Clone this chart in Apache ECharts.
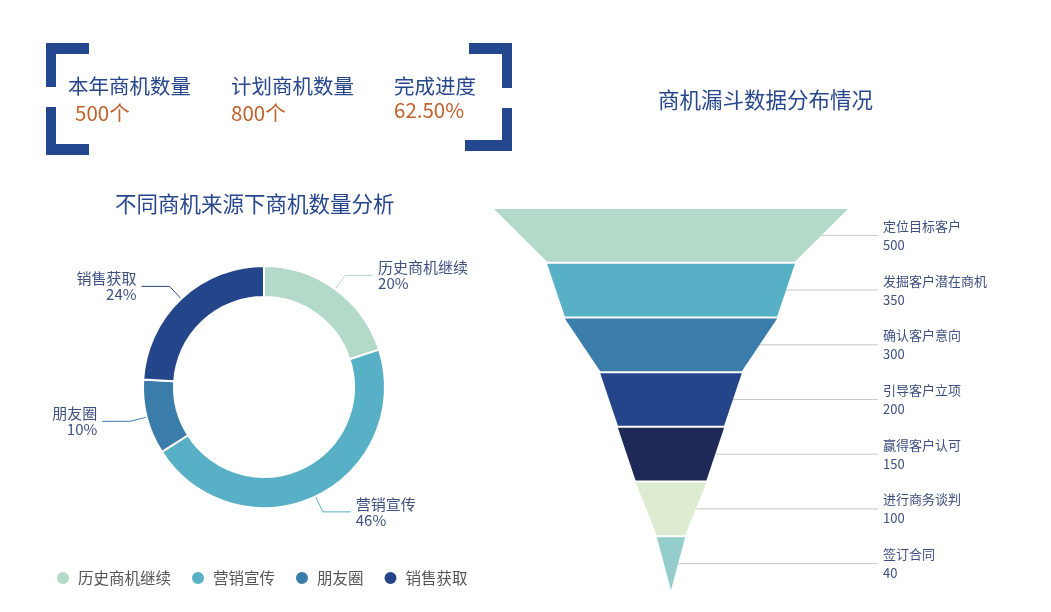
<!DOCTYPE html>
<html>
<head>
<meta charset="utf-8">
<script src="https://cdn.jsdelivr.net/npm/echarts@6/dist/echarts.min.js"></script>
<style>
html,body{margin:0;padding:0;background:#fff;}
#main{width:1051px;height:612px;}
</style>
</head>
<body>
<div id="main"></div>
<script>
// ---- data ----
const kpiLabels = ['本年商机数量', '计划商机数量', '完成进度'];
const kpiValues = ['500个', '800个', '62.50%'];

const sourceNames = ['历史商机继续', '营销宣传', '朋友圈', '销售获取'];
const sourceValues = [100, 230, 50, 120];

const funnelNames = ['定位目标客户', '发掘客户潜在商机', '确认客户意向', '引导客户立项', '赢得客户认可', '进行商务谈判', '签订合同'];
const funnelValues = [500, 350, 300, 200, 150, 100, 40];

const pieTitle = '不同商机来源下商机数量分析';
const funnelTitle = '商机漏斗数据分布情况';

// ---- styles ----
const FONT = '"Noto Sans CJK SC", "Noto Sans", sans-serif';
const NAVY = '#27478c';
const ORANGE = '#c0622b';
const LABEL_COLOR = '#3e5080';
const pieColors = ['#b3d9c8', '#58b0c6', '#3a7caa', '#244589'];
const funnelColors = ['#b3d9c8', '#58b0c6', '#3a7caa', '#244589', '#1e2957', '#ddebd0', '#94cdcb'];

const FUNNEL_LEFT = 494, FUNNEL_WIDTH = 354, FUNNEL_TOP = 209, FUNNEL_HEIGHT = 381;
const FUNNEL_MAX = 500;
const FUNNEL_LINE_END = 878;
const funnelCx = FUNNEL_LEFT + FUNNEL_WIDTH / 2;

const funnelData = funnelNames.map((n, i) => {
  const w0 = funnelValues[i] / FUNNEL_MAX * FUNNEL_WIDTH;
  const w1 = i + 1 < funnelValues.length ? funnelValues[i + 1] / FUNNEL_MAX * FUNNEL_WIDTH : 0;
  const edgeX = funnelCx + (w0 + w1) / 4;
  return {
    name: n,
    value: funnelValues[i],
    itemStyle: { color: funnelColors[i] },
    labelLine: { length: FUNNEL_LINE_END - edgeX }
  };
});

const pieData = sourceNames.map((n, i) => ({ name: n, value: sourceValues[i], itemStyle: { color: pieColors[i] } }));

// bracket decoration
function bar(x, y, w, h) {
  return { type: 'rect', shape: { x: x, y: y, width: w, height: h }, style: { fill: '#234890' }, silent: true };
}
const kpiX = [68, 231, 394];
const kpiValX = [75, 231, 394];
const kpiValY = [113, 113, 110];
const graphics = [
  bar(46, 43, 43, 11), bar(46, 43, 10, 44), bar(46, 107, 10, 48), bar(46, 144, 43, 11),
  bar(469, 43, 43, 11), bar(502, 43, 10, 45), bar(502, 108, 10, 43), bar(465, 140, 47, 11)
];
kpiLabels.forEach((t, i) => {
  graphics.push({ type: 'text', x: kpiX[i], y: 86, style: { text: t, fill: NAVY, font: '20.5px ' + FONT, textVerticalAlign: 'middle' } });
  graphics.push({ type: 'text', x: kpiValX[i], y: kpiValY[i], style: { text: kpiValues[i], fill: ORANGE, font: '20.5px ' + FONT, textVerticalAlign: 'middle' } });
});

const chart = echarts.init(document.getElementById('main'), null, { renderer: 'canvas' });
chart.setOption({
  animation: false,
  textStyle: { fontFamily: FONT },
  title: [
    { text: pieTitle, left: 110, top: 188, textStyle: { color: NAVY, fontSize: 21.5, fontWeight: 'normal', fontFamily: FONT } },
    { text: funnelTitle, left: 653, top: 84, textStyle: { color: NAVY, fontSize: 21.5, fontWeight: 'normal', fontFamily: FONT } }
  ],
  legend: {
    data: sourceNames,
    left: 50, top: 565,
    icon: 'circle',
    itemWidth: 20, itemHeight: 14, itemGap: 19,
    textStyle: { color: '#555', fontSize: 15.5, fontFamily: FONT }
  },
  graphic: graphics,
  series: [
    {
      type: 'pie',
      center: [264, 387],
      radius: [90, 121],
      startAngle: 90,
      clockwise: true,
      avoidLabelOverlap: true,
      itemStyle: { borderColor: '#fff', borderWidth: 2 },
      label: { formatter: '{b}\n{d}%', color: LABEL_COLOR, fontSize: 15, lineHeight: 16, fontFamily: FONT },
      labelLine: { length: 17, length2: 28, lineStyle: { width: 1 } },
      data: pieData
    },
    {
      type: 'funnel',
      left: FUNNEL_LEFT, top: FUNNEL_TOP, width: FUNNEL_WIDTH, height: FUNNEL_HEIGHT,
      min: 0, max: FUNNEL_MAX,
      minSize: '0%', maxSize: '100%',
      sort: 'none', gap: 2,
      funnelAlign: 'center',
      itemStyle: { borderWidth: 0 },
      label: { show: true, position: 'right', formatter: '{b}\n{c}', color: LABEL_COLOR, fontSize: 13, lineHeight: 19, padding: [0, 0, 4, 0], fontFamily: FONT },
      labelLine: { show: true, lineStyle: { color: '#c8c8c8', width: 1 } },
      data: funnelData
    }
  ]
});
</script>
</body>
</html>
